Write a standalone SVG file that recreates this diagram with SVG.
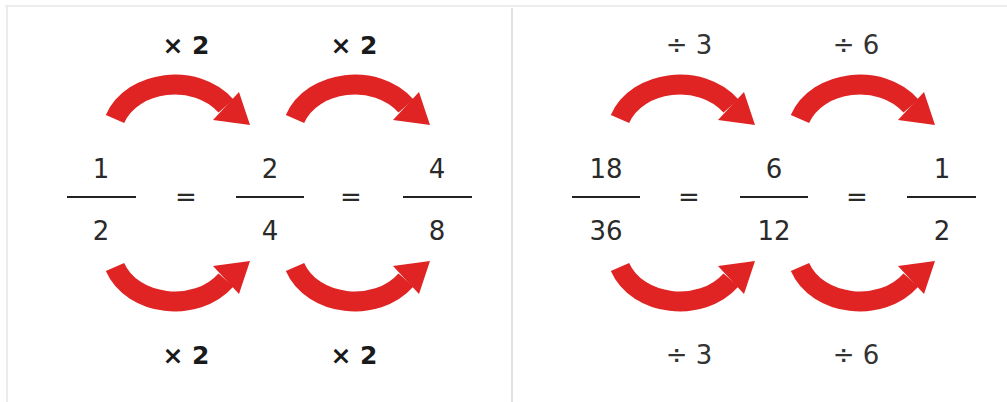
<svg xmlns="http://www.w3.org/2000/svg" width="1007" height="402" viewBox="0 0 1007 402">
<style>
.num{font-family:"DejaVu Sans",Verdana,sans-serif;font-size:26px;fill:#2a2a2a;text-anchor:middle}
.lbl{font-family:"DejaVu Sans",Verdana,sans-serif;font-size:25px;font-weight:bold;fill:#1a1a1a;text-anchor:middle}
.lbl2{font-family:"DejaVu Sans",Verdana,sans-serif;font-size:26px;fill:#333;text-anchor:middle}
.bar{stroke:#222;stroke-width:2}
.band{fill:none;stroke:#e02424;stroke-width:20}
.head{fill:#e02424}
</style>
<defs>
<g id="arc">
<path class="band" d="M115,119 C132,80 196,72 226,106"/>
<polygon class="head" points="239,92 250,125 213,120"/>
</g>
</defs>
<rect x="0" y="0" width="1007" height="402" fill="#fff"/>
<path d="M5,6 H1007 M7,6 V402" stroke="#ececec" stroke-width="2" fill="none"/>
<line x1="512" y1="8" x2="512" y2="402" stroke="#e2e2e2" stroke-width="2"/>
<g id="connectors">
<use href="#arc"/>
<use href="#arc" transform="translate(180,0)"/>
<use href="#arc" transform="translate(0,386) scale(1,-1)"/>
<use href="#arc" transform="translate(180,386) scale(1,-1)"/>
<use href="#arc" transform="translate(505,0)"/>
<use href="#arc" transform="translate(685,0)"/>
<use href="#arc" transform="translate(505,386) scale(1,-1)"/>
<use href="#arc" transform="translate(685,386) scale(1,-1)"/>
</g>
<g id="labels-left">
<text class="lbl" x="186" y="54">× 2</text>
<text class="lbl" x="354" y="54">× 2</text>
<text class="lbl" x="186" y="364">× 2</text>
<text class="lbl" x="354" y="364">× 2</text>
</g>
<g id="labels-right">
<text class="lbl2" x="689" y="54">÷ 3</text>
<text class="lbl2" x="856" y="54">÷ 6</text>
<text class="lbl2" x="689" y="364">÷ 3</text>
<text class="lbl2" x="856" y="364">÷ 6</text>
</g>
<g id="frac-1-2"><text class="num" x="101" y="178">1</text><line class="bar" x1="67" y1="197" x2="136" y2="197"/><text class="num" x="101" y="240">2</text></g>
<g id="eq1"><text class="num" x="186" y="206">=</text></g>
<g id="frac-2-4"><text class="num" x="270" y="178">2</text><line class="bar" x1="236" y1="197" x2="304" y2="197"/><text class="num" x="270" y="240">4</text></g>
<g id="eq2"><text class="num" x="351" y="206">=</text></g>
<g id="frac-4-8"><text class="num" x="437" y="178">4</text><line class="bar" x1="403" y1="197" x2="472" y2="197"/><text class="num" x="437" y="240">8</text></g>
<g id="frac-18-36"><text class="num" x="606" y="178">18</text><line class="bar" x1="572" y1="197" x2="640" y2="197"/><text class="num" x="606" y="240">36</text></g>
<g id="eq3"><text class="num" x="689" y="206">=</text></g>
<g id="frac-6-12"><text class="num" x="774" y="178">6</text><line class="bar" x1="740" y1="197" x2="808" y2="197"/><text class="num" x="774" y="240">12</text></g>
<g id="eq4"><text class="num" x="857" y="206">=</text></g>
<g id="frac-1-2b"><text class="num" x="942" y="178">1</text><line class="bar" x1="907" y1="197" x2="976" y2="197"/><text class="num" x="942" y="240">2</text></g>
</svg>
